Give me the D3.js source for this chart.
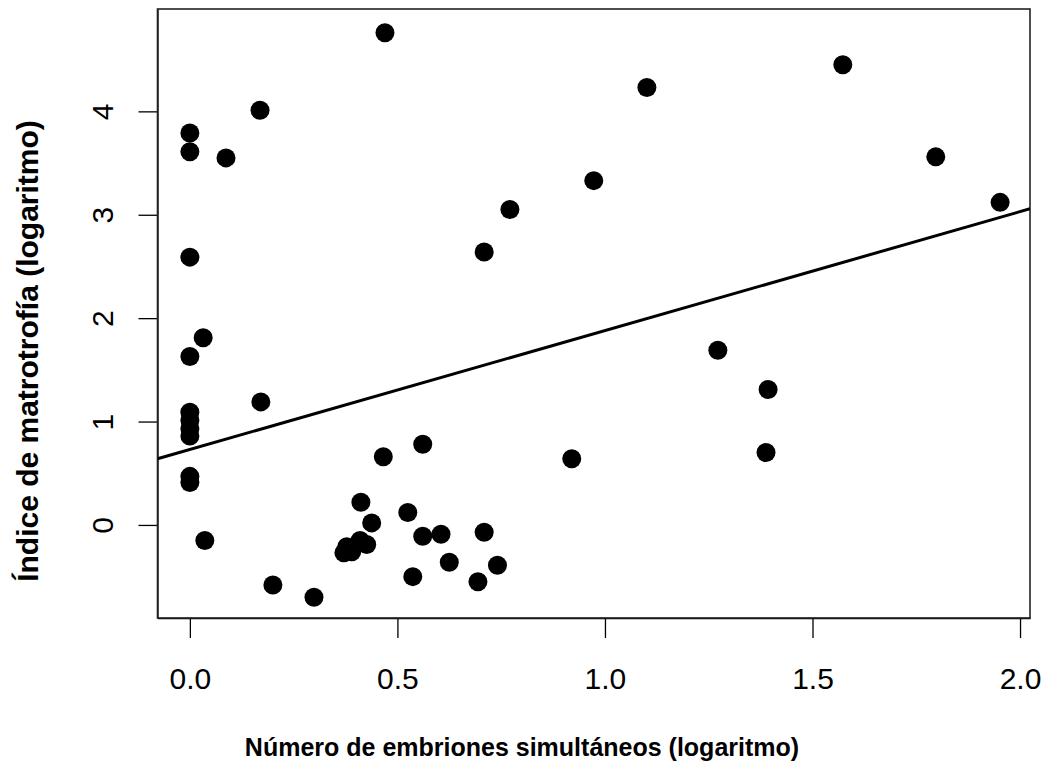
<!DOCTYPE html>
<html>
<head>
<meta charset="utf-8">
<script src="https://cdn.jsdelivr.net/npm/d3@7"></script>
<style>
  body { margin: 0; background: #fff; }
  svg text { font-family: "Liberation Sans", Arial, Helvetica, sans-serif; fill: #000; }
</style>
</head>
<body>
<svg id="chart" width="1045" height="776"></svg>
<script>
// datos (log embriones, log matrotrofia)
const embrionesLog = [
  0.47, 0.169, 0, 0, 0.087, 0, 0.032, 0, 0.171, 0, 0, 0, 0, 0, 0,
  0.036, 0.20, 0.299, 0.466, 0.561, 0.412, 0.438, 0.525, 0.371, 0.39,
  0.378, 0.41, 0.426, 0.561, 0.605, 0.709, 0.625, 0.537, 0.694, 0.741,
  0.92, 0.709, 0.771, 0.973, 1.101, 1.573, 1.797, 1.952, 1.272, 1.393, 1.388
];
const matrotrofiaLog = [
  4.76, 4.01, 3.79, 3.61, 3.55, 2.59, 1.81, 1.63, 1.19, 1.09, 1.01, 0.93, 0.86, 0.47, 0.41,
  -0.15, -0.58, -0.70, 0.66, 0.78, 0.22, 0.02, 0.12, -0.27, -0.26,
  -0.21, -0.15, -0.19, -0.11, -0.09, -0.07, -0.36, -0.50, -0.55, -0.39,
  0.64, 2.64, 3.05, 3.33, 4.23, 4.45, 3.56, 3.12, 1.69, 1.31, 0.70
];
// recta de regresion (abline)
const intercepto = 0.73;
const pendiente = 1.15;

const xTicks = [0, 0.5, 1, 1.5, 2];
const yTicks = [0, 1, 2, 3, 4];

const svg = d3.select("#chart");

const boxL = 157.5, boxR = 1030, boxT = 9, boxB = 618;

const x = d3.scaleLinear().domain([-0.078, 2.024]).range([boxL, boxR]);
const y = d3.scaleLinear().domain([-0.90, 4.99]).range([boxB, boxT]);

// eje x
const xAxis = svg.append("g")
  .attr("transform", `translate(0,${boxB})`)
  .call(d3.axisBottom(x).tickValues(xTicks).tickFormat(d3.format(".1f"))
    .tickSize(20).tickPadding(30).tickSizeOuter(0));
xAxis.selectAll("text").attr("font-size", 30);

// eje y (etiquetas giradas como en R)
const yAxis = svg.append("g")
  .attr("transform", `translate(${boxL},0)`)
  .call(d3.axisLeft(y).tickValues(yTicks).tickFormat(d3.format("d"))
    .tickSize(19).tickPadding(0).tickSizeOuter(0));
yAxis.selectAll(".tick text")
  .attr("font-size", 30)
  .attr("text-anchor", "middle")
  .attr("x", null).attr("y", null).attr("dy", null)
  .attr("transform", "translate(-45,0) rotate(-90)");

svg.selectAll(".domain").attr("stroke", "#000").attr("stroke-width", 1.3);
svg.selectAll(".tick line").attr("stroke", "#000").attr("stroke-width", 1.3);

// caja
svg.append("rect")
  .attr("x", boxL).attr("y", boxT)
  .attr("width", boxR - boxL).attr("height", boxB - boxT)
  .attr("fill", "none").attr("stroke", "#222").attr("stroke-width", 1.6);

svg.append("clipPath").attr("id", "clip")
  .append("rect").attr("x", boxL).attr("y", boxT)
  .attr("width", boxR - boxL).attr("height", boxB - boxT);

// puntos
const puntos = embrionesLog.map((d, i) => ({ x: d, y: matrotrofiaLog[i] }));
svg.append("g")
  .selectAll("circle")
  .data(puntos)
  .enter().append("circle")
  .attr("cx", d => x(d.x))
  .attr("cy", d => y(d.y))
  .attr("r", 9.5)
  .attr("fill", "#000");

// linea
const xd = x.domain();
svg.append("line")
  .attr("clip-path", "url(#clip)")
  .attr("x1", x(xd[0])).attr("y1", y(intercepto + pendiente * xd[0]))
  .attr("x2", x(xd[1])).attr("y2", y(intercepto + pendiente * xd[1]))
  .attr("stroke", "#000").attr("stroke-width", 3);

// titulos
svg.append("text")
  .attr("x", 522).attr("y", 756)
  .attr("text-anchor", "middle")
  .attr("font-size", 25).attr("font-weight", "bold")
  .text("Número de embriones simultáneos (logaritmo)");

svg.append("text")
  .attr("transform", "translate(38,351) rotate(-90)")
  .attr("text-anchor", "middle")
  .attr("font-size", 30).attr("font-weight", "bold")
  .text("Índice de matrotrofía (logaritmo)");
</script>
</body>
</html>
